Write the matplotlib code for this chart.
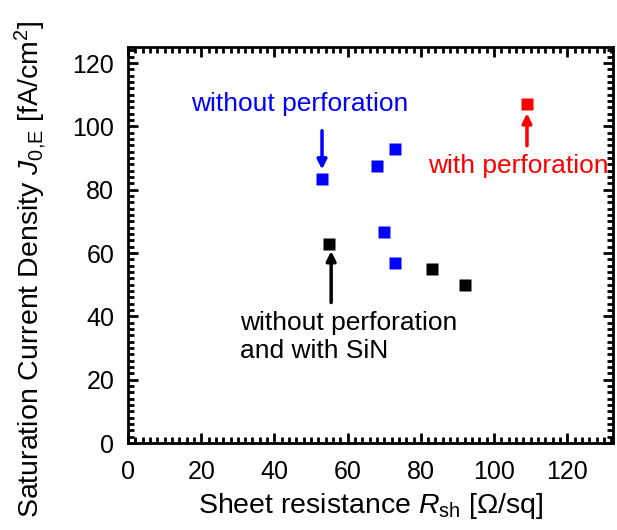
import numpy as np
from matplotlib import pyplot as plt
from matplotlib.ticker import MultipleLocator

plt.rcParams['font.family'] = ['Liberation Sans', 'DejaVu Sans']
plt.rcParams['mathtext.fontset'] = 'custom'
plt.rcParams['mathtext.rm'] = 'Liberation Sans'
plt.rcParams['mathtext.it'] = 'Liberation Sans:italic'

# data
rsh_no_perf = [53, 68, 73, 70, 73]
j0_no_perf = [83.5, 87.5, 93, 66.5, 57]
rsh_sin = [55, 83, 92]
j0_sin = [63, 55, 50]
rsh_perf = [109]
j0_perf = [107]

fig = plt.figure(figsize=(6.17, 5.30), dpi=100)
ax = fig.add_axes([0.2075, 0.164, 0.786, 0.747])

ax.plot(rsh_no_perf, j0_no_perf, 's', color='#0000ff', ms=8.5, mec='none')
ax.plot(rsh_sin, j0_sin, 's', color='black', ms=8.5, mec='none')
ax.plot(rsh_perf, j0_perf, 's', color='#ff0000', ms=8.5, mec='none')

ax.set_xlim(0, 132.5)
ax.set_ylim(0, 125)
ax.xaxis.set_major_locator(MultipleLocator(20))
ax.xaxis.set_minor_locator(MultipleLocator(2))
ax.yaxis.set_major_locator(MultipleLocator(20))
ax.yaxis.set_minor_locator(MultipleLocator(2))
ax.tick_params(which='both', direction='in', top=True, right=True, width=2, labelsize=18)
ax.tick_params(which='major', length=7)
ax.tick_params(which='minor', length=4)
ax.tick_params(axis='x', which='major', pad=12)
ax.tick_params(axis='y', which='major', pad=10)
for s in ax.spines.values():
	s.set_linewidth(2)

ax.set_xlabel(r'Sheet resistance $R_{\mathrm{sh}}$ [$\Omega$/sq]', fontsize=20.5, labelpad=5)
ax.set_ylabel(r'Saturation Current Density $J_{\mathrm{0{,}E}}$ [fA/cm$^2$]', fontsize=20.5)
ax.yaxis.set_label_coords(-0.165, 0.44)

# annotations
ax.text(47, 107, 'without perforation', color='#0000ff', fontsize=19, ha='center', va='center')
ax.annotate('', xy=(53, 85.5), xytext=(53, 99.5),
	arrowprops=dict(arrowstyle='-|>', color='#0000ff', lw=2.5, mutation_scale=14))
ax.text(106.5, 87.5, 'with perforation', color='#ff0000', fontsize=19, ha='center', va='center')
ax.annotate('', xy=(109, 105), xytext=(109, 93),
	arrowprops=dict(arrowstyle='-|>', color='#ff0000', lw=2.5, mutation_scale=14))
ax.text(30.5, 33.5, 'without perforation\nand with SiN', color='black', fontsize=19,
	ha='left', va='center', linespacing=1.2)
ax.annotate('', xy=(55.5, 61.5), xytext=(55.5, 43.5),
	arrowprops=dict(arrowstyle='-|>', color='black', lw=2.5, mutation_scale=14))

plt.savefig('out.png', dpi=100)
